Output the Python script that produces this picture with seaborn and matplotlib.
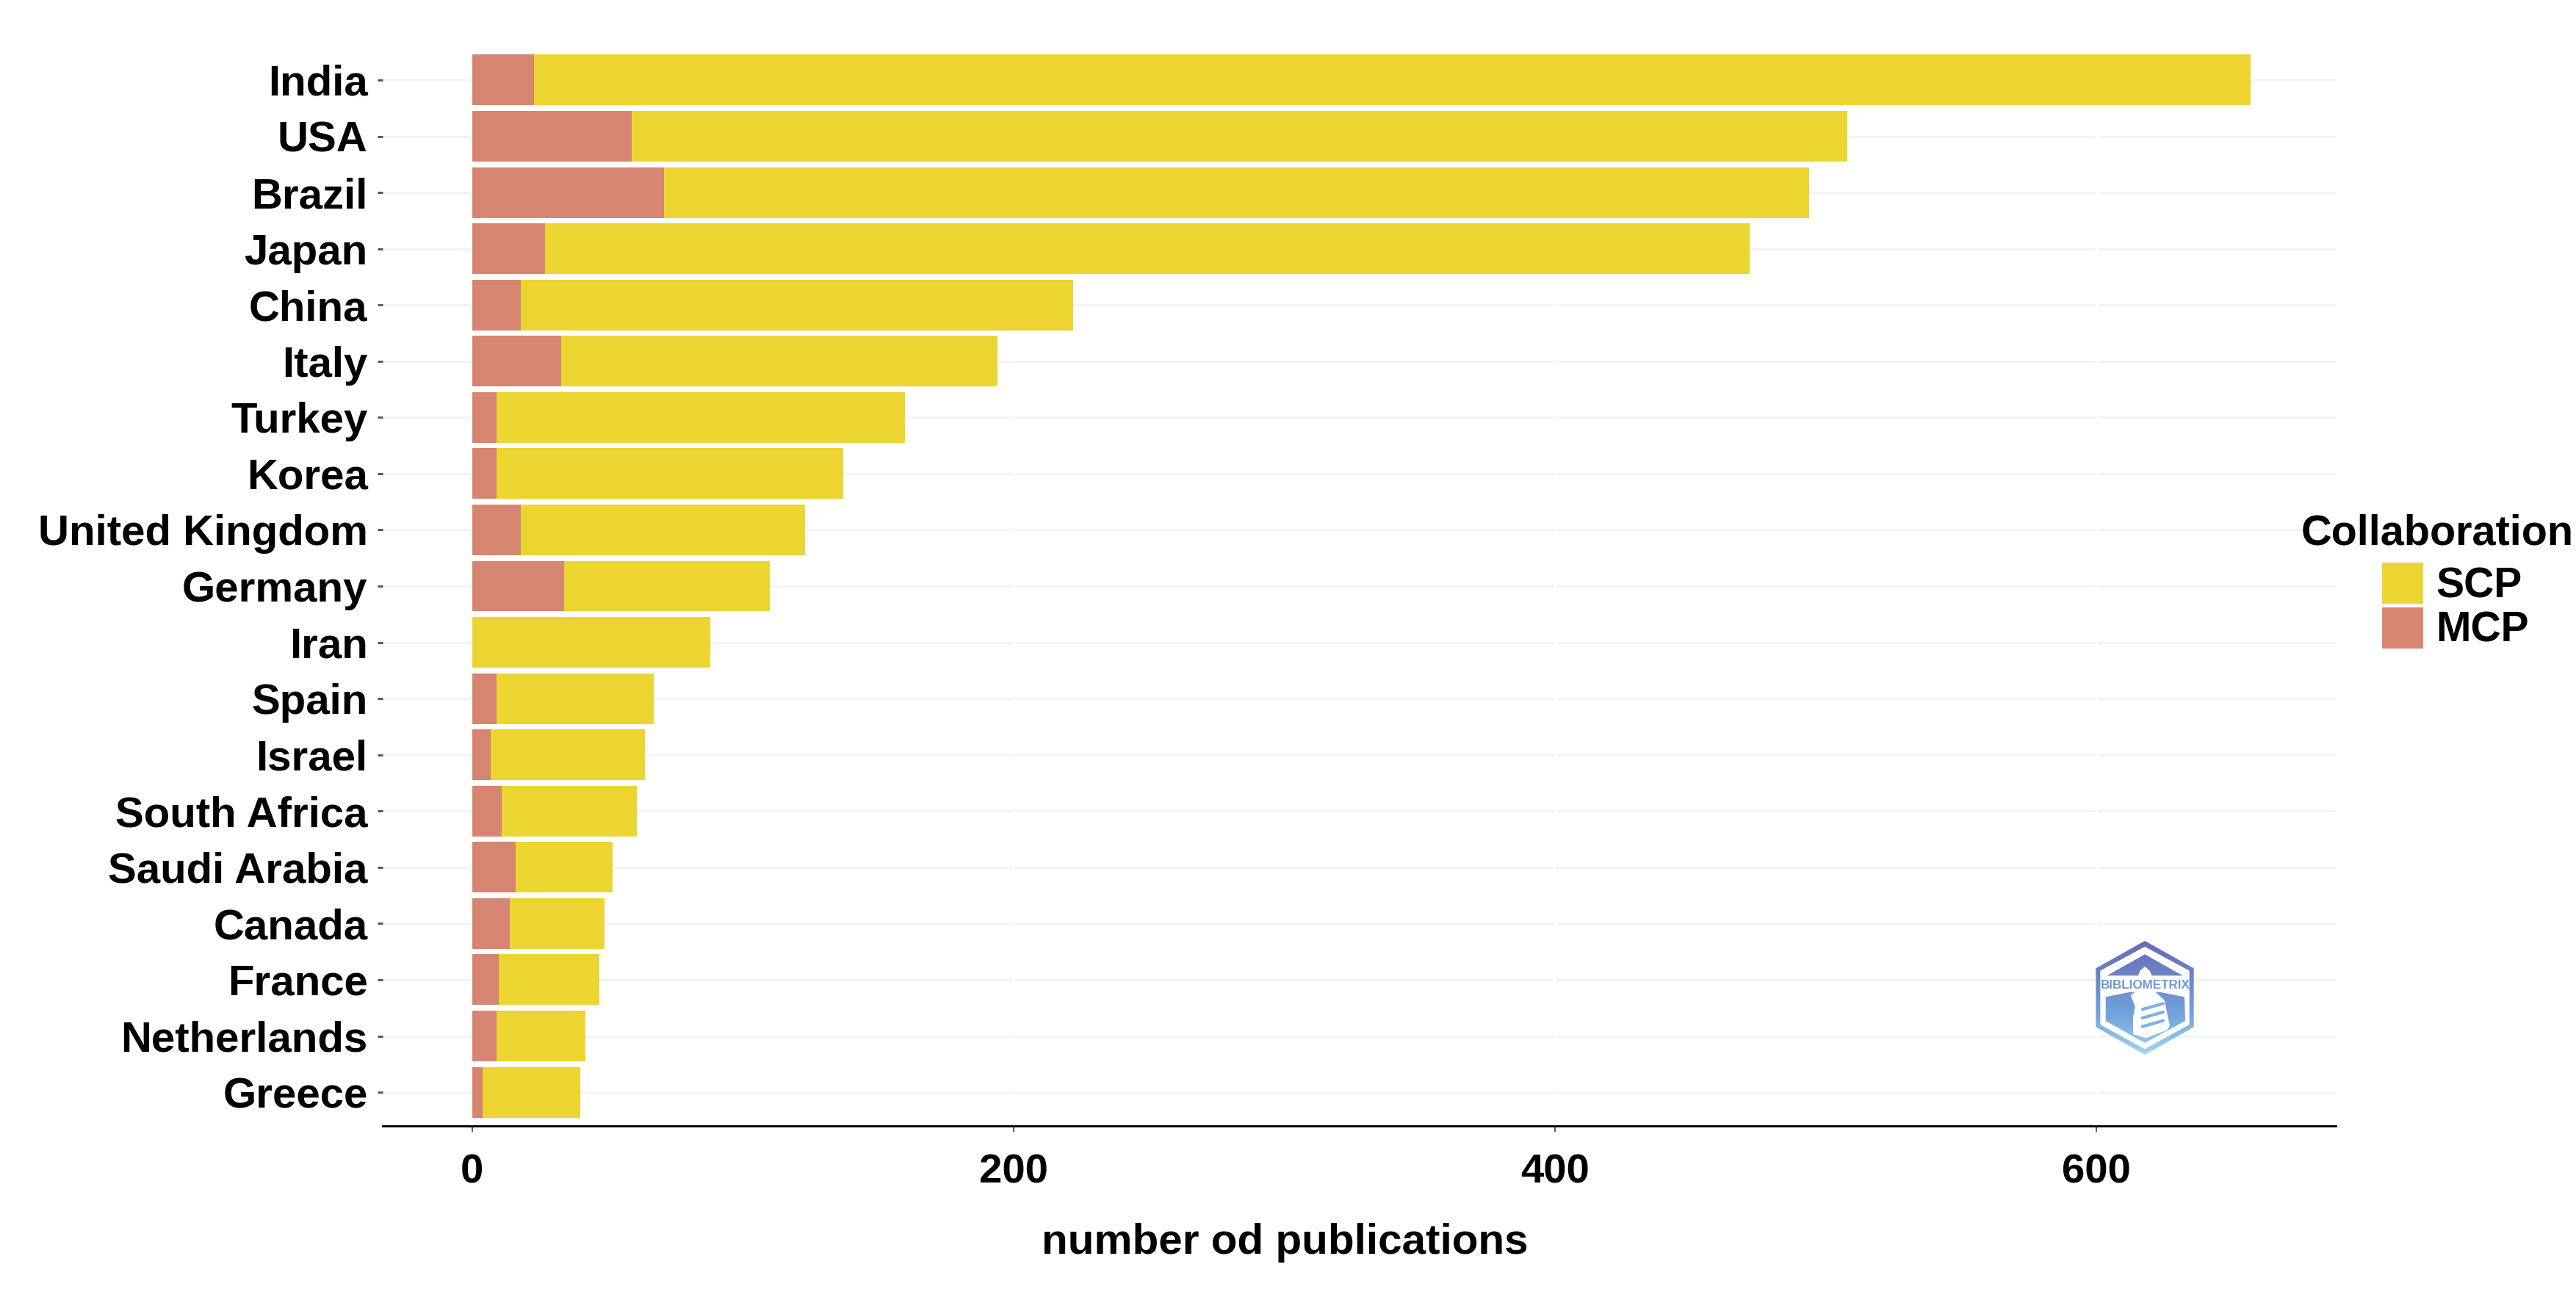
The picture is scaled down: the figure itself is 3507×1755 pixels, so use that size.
import numpy as np
import pandas as pd
import seaborn as sns
import matplotlib.pyplot as plt
from matplotlib.patches import Patch, Polygon

# Values
countries = ['India', 'USA', 'Brazil', 'Japan', 'China', 'Italy', 'Turkey', 'Korea',
             'United Kingdom', 'Germany', 'Iran', 'Spain', 'Israel', 'South Africa',
             'Saudi Arabia', 'Canada', 'France', 'Netherlands', 'Greece']
scp = [634, 449, 423, 445, 204, 161, 151, 128, 105, 76, 88, 58, 57, 50, 36, 35, 37, 33, 36]
mcp = [23, 59, 71, 27, 18, 33, 9, 9, 18, 34, 0, 9, 7, 11, 16, 14, 10, 9, 4]
x_ticks = [0, 200, 400, 600]

YELLOW = '#ECD531'
SALMON = '#D68571'
W, H = 3507, 1755

sns.set_theme(style='white')
plt.rcParams['font.family'] = ['Liberation Sans', 'DejaVu Sans']
plt.rcParams['font.weight'] = 'bold'
plt.rcParams['text.color'] = 'black'
plt.rcParams['axes.labelcolor'] = 'black'

df = pd.DataFrame({'country': countries, 'SCP': scp, 'MCP': mcp})
df['total'] = df['SCP'] + df['MCP']

fig = plt.figure(figsize=(W / 300, H / 300), dpi=300, facecolor='white')
ax = fig.add_axes([521 / W, 1 - 1533 / H, (3180 - 521) / W, (1533 - 63) / H])

# Stacked bars: the total in yellow, MCP laid over it
sns.barplot(data=df, y='country', x='total', color=YELLOW, width=0.9, saturation=1,
            linewidth=0, ax=ax)
sns.barplot(data=df, y='country', x='MCP', color=SALMON, width=0.9, saturation=1,
            linewidth=0, ax=ax)

ax.set_xlim(-33, 688.5)
ax.set_ylim(18.6, -0.6)
ax.set_xticks(x_ticks)
ax.set_ylabel('')
ax.set_xlabel('number od publications', fontsize=14, fontweight='bold', labelpad=0, color='black')
ax.xaxis.set_label_coords(0.462, -0.1085)
ax.xaxis.get_label().set_va('center')

ax.tick_params(axis='x', length=2, width=0.45, color='#555555', pad=7, labelsize=13.5, bottom=True)
ax.tick_params(axis='y', length=1.7, width=0.7, color='#555555', pad=3.2, labelsize=13.95, left=True)
for lab in ax.get_xticklabels() + ax.get_yticklabels():
    lab.set_fontweight('bold')
    lab.set_color('black')

# Pale horizontal grid, cut by white vertical lines
ax.grid(axis='y', color='#F3F3F3', lw=0.7)
ax.grid(axis='x', color='white', lw=0.75)
ax.set_axisbelow(True)
ax.xaxis.set_zorder(0.6)

sns.despine(ax=ax, left=True)
ax.spines['bottom'].set_linewidth(0.7)
ax.spines['bottom'].set_color('black')

# Legend
handles = [Patch(color=YELLOW, lw=0), Patch(color=SALMON, lw=0)]
leg = fig.legend(handles, ['SCP', 'MCP'], loc='upper left', bbox_to_anchor=(3243 / W, 1 - 766 / H),
                 frameon=False, fontsize=13.7, handlelength=0.98, handleheight=1.13,
                 handletextpad=0.3, labelspacing=0.023, borderpad=0, borderaxespad=0,
                 labelcolor='black')
fig.text(3133 / W, 1 - 727 / H, 'Collaboration', fontsize=13.85, fontweight='bold',
         ha='left', va='center', color='black')


# Logo in the lower right, in its own little axes (pixel units of a 1500x900 crop)
def logo_part(lax, pts, grad, z):
    im = lax.imshow(grad, extent=(300, 720, 660, 170), aspect='auto', zorder=z)
    im.set_clip_path(Polygon(pts, closed=True, transform=lax.transData))


lx0, ly0 = 2750 + 300 / 3, 1220 + 170 / 3
lw, lh = 420 / 3, 490 / 3
lax = fig.add_axes([lx0 / W, 1 - (ly0 + lh) / H, lw / W, lh / H], zorder=5)
lax.patch.set_alpha(0)
lax.axis('off')
stops = np.array([[104, 104, 180], [110, 135, 200], [112, 165, 220], [170, 215, 240]]) / 255
t = np.linspace(0, 1, 120)
grad = np.stack([np.interp(t, [0, 0.35, 0.65, 1], stops[:, i]) for i in range(3)], axis=1)[:, None, :]

logo_part(lax, [(510, 183), (710, 295), (710, 535), (510, 648), (310, 535), (310, 295)], grad, 2)
lax.add_patch(Polygon([(510, 207), (692, 305), (692, 525), (510, 625), (328, 525), (328, 305)],
                      closed=True, fc='white', ec='none', zorder=3))
logo_part(lax, [(510, 238), (665, 325), (355, 325)], grad, 4)
logo_part(lax, [(350, 412), (450, 392), (570, 392), (672, 412), (675, 510), (510, 600), (350, 510)], grad, 4)
# tower
lax.add_patch(Polygon([(510, 288), (530, 305), (545, 340), (478, 340), (490, 305)],
                      closed=True, fc='white', ec='none', zorder=5))
lax.add_patch(Polygon([(452, 405), (480, 385), (545, 385), (568, 405), (590, 425), (612, 530),
                       (600, 548), (515, 580), (462, 565), (462, 495), (470, 450)],
                      closed=True, fc='white', ec='none', zorder=5))
for y0 in (455, 490, 525):
    lax.plot([500, 585], [y0 + 8, y0 - 16], color='#7FB0E2', lw=1.0, zorder=6)
lax.text(512, 364, 'BIBLIOMETRIX', fontsize=4.1, fontweight='bold', color='#6F97D2',
         ha='center', va='center', zorder=6)
lax.set_xlim(300, 720)
lax.set_ylim(660, 170)

fig.savefig('out.png', dpi=300, facecolor='white')
